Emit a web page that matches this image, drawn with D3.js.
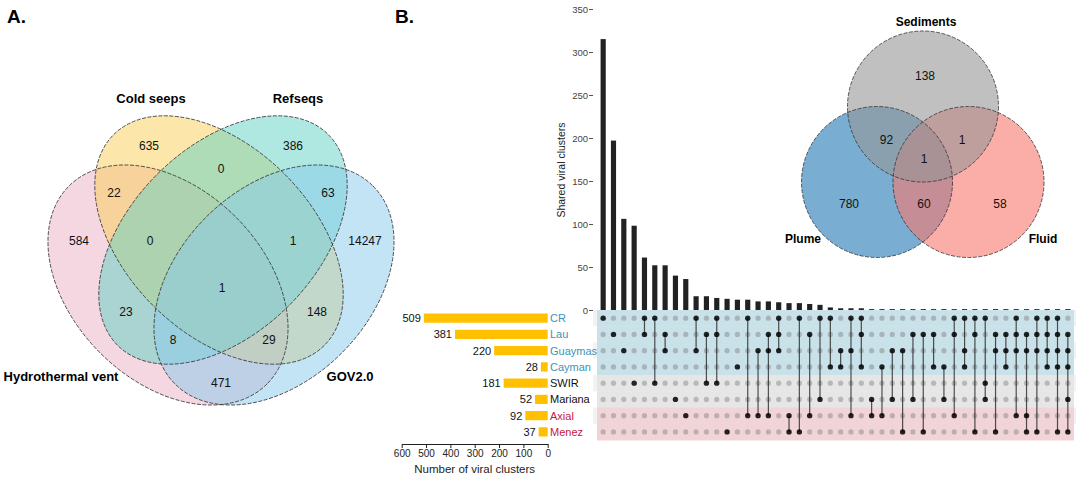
<!DOCTYPE html>
<html>
<head>
<meta charset="utf-8">
<script src="https://cdn.jsdelivr.net/npm/d3@7"></script>
<style>
  body { margin: 0; background: #fff; }
  svg { display: block; font-family: Arial, "Liberation Sans", sans-serif; }
</style>
</head>
<body>
<svg id="fig" width="1080" height="477"></svg>
<script>
// ---------------- data ----------------
// Panel A: four-set Venn
const vennASets = ['Hydrothermal vent', 'Cold seeps', 'Refseqs', 'GOV2.0'];
const vennAColors = ['#EBAFC3', '#FBCD55', '#5FD1C3', '#87C9EB'];
const vennARegions = ['H', 'C', 'R', 'G', 'HC', 'CR', 'RG', 'HCR', 'CRG', 'HCRG', 'HR', 'CG', 'HRG', 'HCG', 'HG'];
const vennACounts = [584, 635, 386, 14247, 22, 0, 63, 0, 1, 1, 23, 148, 8, 29, 471];

// Panel B: UpSet
const sets = ['CR', 'Lau', 'Guaymas', 'Cayman', 'SWIR', 'Mariana', 'Axial', 'Menez'];
const setSizes = [509, 381, 220, 28, 181, 52, 92, 37];
const setGroups = ['plume', 'plume', 'plume', 'plume', 'sediments', 'sediments', 'fluid', 'fluid'];
const intersections = [
  ['CR'], ['Lau'], ['Guaymas'], ['SWIR'], ['CR', 'Lau'], ['CR', 'SWIR'], ['Lau', 'Guaymas'],
  ['Mariana'], ['Axial'], ['CR', 'Guaymas'], ['Lau', 'SWIR'], ['CR', 'Lau', 'SWIR'], ['Menez'],
  ['Cayman'], ['CR', 'Axial'], ['Guaymas', 'Axial'], ['Lau', 'Guaymas', 'Axial'], ['CR', 'Lau', 'Guaymas'],
  ['Axial', 'Menez'], ['CR', 'Menez'], ['Lau', 'Axial'], ['CR', 'Mariana'], ['CR', 'Cayman'],
  ['Guaymas', 'Cayman'], ['CR', 'Guaymas', 'Axial'], ['CR', 'Lau', 'Cayman'], ['Mariana', 'Axial'],
  ['Cayman', 'Axial'], ['Guaymas', 'Mariana'], ['Guaymas', 'Menez'], ['Lau', 'Mariana'], ['Lau', 'Menez'],
  ['Lau', 'Cayman'], ['Cayman', 'Mariana'], ['CR', 'Lau', 'Axial'], ['CR', 'Guaymas', 'Cayman'],
  ['CR', 'Lau', 'Menez'], ['CR', 'SWIR', 'Mariana'], ['Lau', 'Guaymas', 'Menez'], ['Lau', 'Guaymas', 'Cayman'],
  ['CR', 'Lau', 'Guaymas', 'Axial'], ['Lau', 'Guaymas', 'Axial', 'Menez'], ['CR', 'Lau', 'Guaymas', 'Menez'],
  ['CR', 'Lau', 'Guaymas', 'Cayman'], ['CR', 'Lau', 'Guaymas', 'Cayman', 'Menez'],
  ['Lau', 'Guaymas', 'Cayman', 'Mariana', 'Menez']
];
const intersectionSizes = [315, 197, 106, 98, 61, 52, 52, 40, 36, 16, 16, 14, 13, 12, 12, 10, 10, 9, 8, 8, 7, 6,
  3, 2, 2, 2, 1, 1, 1, 1, 1, 1, 1, 1, 1, 1, 1, 1, 1, 1, 1, 1, 1, 1, 1, 1];
const barTicks = [0, 50, 100, 150, 200, 250, 300, 350];
const sizeTicks = [0, 100, 200, 300, 400, 500, 600];

// Panel B inset: three-set Venn
const vennBSets = ['Sediments', 'Plume', 'Fluid'];
const vennBColors = ['#969696', '#1F78B4', '#F8766D'];
const vennBRegions = ['S', 'P', 'F', 'SP', 'SF', 'PF', 'SPF'];
const vennBCounts = [138, 780, 58, 92, 1, 60, 1];

// ---------------- layout ----------------
const svg = d3.select('#fig');
const groupColor = { plume: '#3E93B5', sediments: '#111111', fluid: '#C8183F' };
const bandColor = { plume: '#C9E1E9', sediments: '#E6E6E6', fluid: '#F1D4D7' };

// panel letters
svg.append('text').attr('x', 7).attr('y', 23).attr('font-size', 19).attr('font-weight', 'bold').text('A.');
svg.append('text').attr('x', 395).attr('y', 23).attr('font-size', 19).attr('font-weight', 'bold').text('B.');

// ---------- A. Venn (ellipse geometry, centred on the symmetry axis) ----------
const gA = svg.append('g').attr('transform', 'translate(221,0)');
const ellA = [
  { cx: -53, cy: 285, rx: 140, ry: 96, rot: 45 },
  { cx: -2, cy: 240, rx: 149, ry: 93, rot: 45 },
  { cx: 2, cy: 240, rx: 149, ry: 93, rot: -45 },
  { cx: 53, cy: 285, rx: 140, ry: 96, rot: -45 }
];
const labelPosA = {
  H: [-142, 241], C: [-72, 146], R: [72, 146], G: [144, 241], HC: [-107, 193], CR: [0, 169],
  RG: [107, 193], HCR: [-71, 241], CRG: [72, 241], HCRG: [1, 288], HR: [-95, 312], CG: [96, 312],
  HRG: [-48, 340], HCG: [48, 340], HG: [0, 383]
};
const setLabelPosA = [[-160, 376], [-70, 98], [77, 98], [129, 376]];

gA.selectAll('ellipse.fill').data(ellA).join('ellipse')
  .attr('class', 'fill')
  .attr('rx', d => d.rx).attr('ry', d => d.ry)
  .attr('transform', d => `translate(${d.cx},${d.cy}) rotate(${d.rot})`)
  .attr('fill', (d, i) => vennAColors[i]).attr('fill-opacity', 0.5);
gA.selectAll('ellipse.line').data(ellA).join('ellipse')
  .attr('class', 'line')
  .attr('rx', d => d.rx).attr('ry', d => d.ry)
  .attr('transform', d => `translate(${d.cx},${d.cy}) rotate(${d.rot})`)
  .attr('fill', 'none').attr('stroke', '#333').attr('stroke-width', 0.8)
  .attr('stroke-dasharray', '4,1.5');

gA.selectAll('text.count').data(vennARegions).join('text')
  .attr('class', 'count')
  .attr('x', r => labelPosA[r][0]).attr('y', r => labelPosA[r][1])
  .attr('text-anchor', 'middle').attr('dominant-baseline', 'central')
  .attr('font-size', 12).attr('fill', '#111')
  .text((r, i) => vennACounts[i]);

gA.selectAll('text.set').data(vennASets).join('text')
  .attr('class', 'set')
  .attr('x', (d, i) => setLabelPosA[i][0]).attr('y', (d, i) => setLabelPosA[i][1])
  .attr('text-anchor', 'middle').attr('dominant-baseline', 'central')
  .attr('font-size', 13).attr('font-weight', 'bold')
  .text(d => d);

// ---------- B. UpSet ----------
const xCol = d3.scaleBand().domain(d3.range(intersections.length))
  .range([598, 1073]).paddingInner(0.5).paddingOuter(0.25);
const yRow = d3.scaleBand().domain(sets).range([310, 440]);
const yBar = d3.scaleLinear().domain([0, 350]).range([310, 9]);
const xSize = d3.scaleLinear().domain([0, 600]).range([547.7, 401.7]);

const colX = i => xCol(i) + xCol.bandwidth() / 2;
const rowY = s => yRow(s) + yRow.bandwidth() / 2;

// matrix shading
const gM = svg.append('g');
gM.selectAll('rect.stripe').data(sets.filter((s, i) => i % 2 === 0)).join('rect')
  .attr('class', 'stripe')
  .attr('x', 593).attr('width', 483)
  .attr('y', s => yRow(s)).attr('height', yRow.bandwidth())
  .attr('fill', '#F2F2F2');
gM.selectAll('rect.band').data(sets).join('rect')
  .attr('class', 'band')
  .attr('x', 597).attr('width', 477)
  .attr('y', s => yRow(s)).attr('height', yRow.bandwidth() + 0.5)
  .attr('fill', (s, i) => bandColor[setGroups[i]]);

// empty dots
const cells = [];
intersections.forEach((inter, i) => sets.forEach(s => cells.push({ i, s, on: inter.includes(s) })));
gM.selectAll('circle.off').data(cells.filter(c => !c.on)).join('circle')
  .attr('class', 'off')
  .attr('cx', c => colX(c.i)).attr('cy', c => rowY(c.s)).attr('r', 2.6)
  .attr('fill', '#7a7a7a').attr('fill-opacity', 0.42);

// connecting lines
gM.selectAll('line.conn').data(intersections.map((inter, i) => ({ inter, i })).filter(d => d.inter.length > 1)).join('line')
  .attr('class', 'conn')
  .attr('x1', d => colX(d.i)).attr('x2', d => colX(d.i))
  .attr('y1', d => d3.min(d.inter, rowY)).attr('y2', d => d3.max(d.inter, rowY))
  .attr('stroke', '#1a1a1a').attr('stroke-width', 1.2).attr('stroke-opacity', 0.75);

gM.selectAll('circle.on').data(cells.filter(c => c.on)).join('circle')
  .attr('class', 'on')
  .attr('cx', c => colX(c.i)).attr('cy', c => rowY(c.s)).attr('r', 2.7)
  .attr('fill', '#000').attr('fill-opacity', 0.85);

// intersection bars
svg.append('g').selectAll('rect').data(intersectionSizes).join('rect')
  .attr('x', (v, i) => xCol(i)).attr('width', xCol.bandwidth())
  .attr('y', v => yBar(v)).attr('height', v => yBar(0) - yBar(v))
  .attr('fill', '#222');

const gy = svg.append('g').attr('transform', 'translate(593,0)')
  .call(d3.axisLeft(yBar).tickValues(barTicks).tickSize(4).tickPadding(1));
gy.select('.domain').remove();
gy.selectAll('.tick line').attr('stroke', '#555');
gy.selectAll('.tick text').attr('font-size', 9.5).attr('fill', '#444').attr('font-family', 'Arial, "Liberation Sans", sans-serif');

svg.append('text')
  .attr('transform', 'translate(561,170) rotate(-90)')
  .attr('text-anchor', 'middle').attr('dominant-baseline', 'central')
  .attr('font-size', 10.5).attr('fill', '#222')
  .text('Shared viral clusters');

// set size bars
const gS = svg.append('g');
gS.selectAll('rect').data(setSizes).join('rect')
  .attr('x', v => xSize(v)).attr('width', v => xSize(0) - xSize(v))
  .attr('y', (v, i) => rowY(sets[i]) - 4.6).attr('height', 9.2)
  .attr('fill', '#FFC000');
gS.selectAll('text.count').data(setSizes).join('text')
  .attr('class', 'count')
  .attr('x', v => xSize(v) - 3).attr('y', (v, i) => rowY(sets[i]))
  .attr('text-anchor', 'end').attr('dominant-baseline', 'central')
  .attr('font-size', 11).attr('fill', '#111')
  .text(v => v);
gS.selectAll('text.name').data(sets).join('text')
  .attr('class', 'name')
  .attr('x', 550).attr('y', s => rowY(s))
  .attr('dominant-baseline', 'central')
  .attr('font-size', 11).attr('fill', (s, i) => groupColor[setGroups[i]])
  .text(s => s);

const gx = svg.append('g').attr('transform', 'translate(0,444)')
  .call(d3.axisBottom(xSize).tickValues(sizeTicks).tickSize(4).tickSizeOuter(0).tickPadding(2));
gx.select('.domain').attr('stroke', '#222');
gx.selectAll('.tick line').attr('stroke', '#222');
gx.selectAll('.tick text').attr('font-size', 10).attr('fill', '#222').attr('font-family', 'Arial, "Liberation Sans", sans-serif');
svg.append('text').attr('x', 474.7).attr('y', 469)
  .attr('text-anchor', 'middle').attr('dominant-baseline', 'central')
  .attr('font-size', 11.5).attr('fill', '#222')
  .text('Number of viral clusters');

// ---------- B inset: three-circle Venn ----------
const circB = [
  { cx: 923, cy: 106.5 },
  { cx: 877, cy: 182 },
  { cx: 968.5, cy: 182 }
];
const rB = 75.5;
const drawOrderB = [1, 2, 0];
const labelPosB = {
  S: [925, 76], P: [849, 204], F: [1000, 204], SP: [886.5, 140], SF: [962, 140], PF: [924, 204], SPF: [924, 159]
};
const setLabelPosB = [[926, 21.5], [803, 239], [1043, 239]];
const gB = svg.append('g');
gB.selectAll('circle.fill').data(drawOrderB).join('circle')
  .attr('class', 'fill')
  .attr('cx', k => circB[k].cx).attr('cy', k => circB[k].cy).attr('r', rB)
  .attr('fill', k => vennBColors[k]).attr('fill-opacity', 0.6);
gB.selectAll('circle.line').data(drawOrderB).join('circle')
  .attr('class', 'line')
  .attr('cx', k => circB[k].cx).attr('cy', k => circB[k].cy).attr('r', rB)
  .attr('fill', 'none').attr('stroke', '#333').attr('stroke-width', 0.8)
  .attr('stroke-dasharray', '4,1.5');
gB.selectAll('text.count').data(vennBRegions).join('text')
  .attr('class', 'count')
  .attr('x', r => labelPosB[r][0]).attr('y', r => labelPosB[r][1])
  .attr('text-anchor', 'middle').attr('dominant-baseline', 'central')
  .attr('font-size', 12).attr('fill', '#111')
  .text((r, i) => vennBCounts[i]);
gB.selectAll('text.set').data(vennBSets).join('text')
  .attr('class', 'set')
  .attr('x', (d, i) => setLabelPosB[i][0]).attr('y', (d, i) => setLabelPosB[i][1])
  .attr('text-anchor', 'middle').attr('dominant-baseline', 'central')
  .attr('font-size', 12).attr('font-weight', 'bold')
  .text(d => d);
</script>
</body>
</html>
